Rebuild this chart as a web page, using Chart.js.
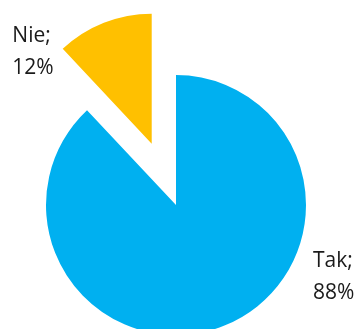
<!DOCTYPE html>
<html>
<head>
<meta charset="utf-8">
<script src="https://cdn.jsdelivr.net/npm/chart.js@4/dist/chart.umd.min.js"></script>
<style>
  html, body { margin: 0; padding: 0; background: #ffffff; }
  #wrap { width: 363px; height: 329px; position: relative; }
</style>
</head>
<body>
<div id="wrap"><canvas id="c" width="363" height="329"></canvas></div>
<script>
// ---- data ----
const categories = ['Tak', 'Nie'];
const values = [88, 12];
const colors = ['#00B0F0', '#FFC000'];

// ---- styling (not data) ----
const explodeIndex = 1;
const explodeDistance = 66;
// label anchor relative to the arc's own centre, in units of radius
const labelAnchors = [
  { dx: 1.053, dy: 0.477 },
  { dx: -1.072, dy: -0.778 }
];

const explodePlugin = {
  id: 'explodeSlice',
  afterDatasetsUpdate(chart) {
    const meta = chart.getDatasetMeta(0);
    const arc = meta.data[explodeIndex];
    if (!arc) return;
    const mid = (arc.startAngle + arc.endAngle) / 2;
    arc.x += Math.cos(mid) * explodeDistance;
    arc.y += Math.sin(mid) * explodeDistance;
  }
};

const labelPlugin = {
  id: 'sliceLabels',
  afterDatasetsDraw(chart) {
    const ctx = chart.ctx;
    const meta = chart.getDatasetMeta(0);
    const data = chart.data.datasets[0].data;
    ctx.save();
    ctx.font = '21px "Open Sans"';
    ctx.fillStyle = '#1a1a1a';
    ctx.textAlign = 'left';
    ctx.textBaseline = 'alphabetic';
    meta.data.forEach((arc, i) => {
      const a = labelAnchors[i];
      const x = arc.x + a.dx * arc.outerRadius;
      const y = arc.y + a.dy * arc.outerRadius;
      ctx.fillText(chart.data.labels[i] + ';', x, y);
      ctx.fillText(data[i] + '%', x, y + 32);
    });
    ctx.restore();
  }
};

new Chart(document.getElementById('c'), {
  type: 'pie',
  data: {
    labels: categories,
    datasets: [{
      data: values,
      backgroundColor: colors,
      borderWidth: 0,
      radius: 130,
      clip: false
    }]
  },
  options: {
    responsive: false,
    animation: false,
    events: [],
    layout: { padding: { top: 81, bottom: 0, left: 0, right: 11 } },
    plugins: {
      legend: { display: false },
      tooltip: { enabled: false },
      title: { display: false }
    }
  },
  plugins: [explodePlugin, labelPlugin]
});
</script>
</body>
</html>
